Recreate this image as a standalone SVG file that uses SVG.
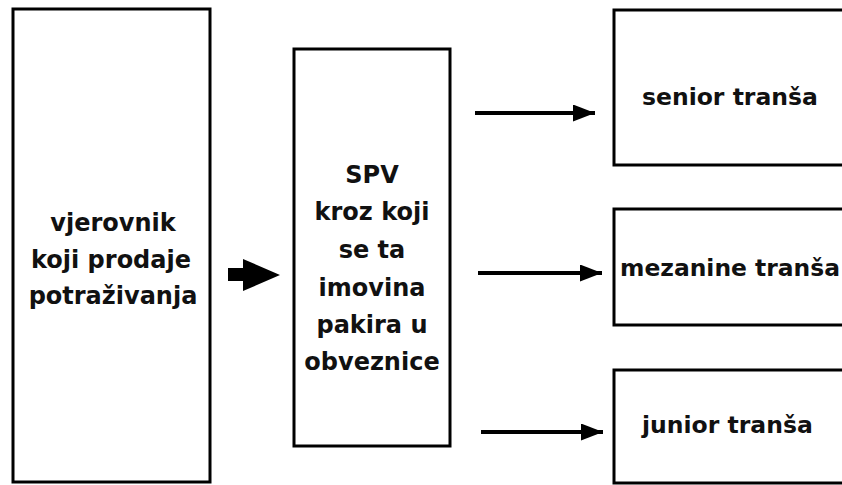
<svg xmlns="http://www.w3.org/2000/svg" width="842" height="485" viewBox="0 0 842 485">
<defs>
<style>
.box{fill:#fff;stroke:#000;stroke-width:3}
.t{font-family:"DejaVu Sans",sans-serif;font-weight:bold;font-size:24px;fill:#111;text-anchor:middle}
.r{font-family:"DejaVu Sans",sans-serif;font-weight:bold;font-size:23.5px;fill:#111}
.ln{stroke:#000;stroke-width:4;fill:none}
</style>
<marker id="ah" markerWidth="22" markerHeight="17" refX="22" refY="8.5" orient="auto" markerUnits="userSpaceOnUse" viewBox="0 0 22 17">
<path d="M0,0 L22,8.5 L0,17 Z" fill="#000"/>
</marker>
</defs>
<rect width="842" height="485" fill="#fff"/>
<g id="creditor">
<rect class="box" x="13" y="9" width="197" height="473"/>
<text class="t" x="113" y="231">vjerovnik</text>
<text class="t" x="111" y="268">koji prodaje</text>
<text class="t" x="113" y="304">potraživanja</text>
</g>
<g id="spv">
<rect class="box" x="294" y="49" width="156" height="397"/>
<text class="t" x="372" y="183">SPV</text>
<text class="t" x="372" y="220">kroz koji</text>
<text class="t" x="372" y="258">se ta</text>
<text class="t" x="372" y="296">imovina</text>
<text class="t" x="372" y="333">pakira u</text>
<text class="t" x="372" y="370">obveznice</text>
</g>
<g id="senior">
<rect class="box" x="614" y="10" width="240" height="155"/>
<text class="r" x="642" y="105">senior tranša</text>
</g>
<g id="mezanine">
<rect class="box" x="614" y="209" width="240" height="116"/>
<text class="r" x="620" y="276" textLength="220" lengthAdjust="spacingAndGlyphs">mezanine tranša</text>
</g>
<g id="junior">
<rect class="box" x="614" y="370" width="240" height="113"/>
<text class="r" x="642" y="433">junior tranša</text>
</g>
<g id="connectors">
<path d="M228,268 H243 V259 L280,275 L243,291 V281 H228 Z" fill="#000"/>
<line class="ln" x1="475" y1="113" x2="595" y2="113" marker-end="url(#ah)"/>
<line class="ln" x1="478" y1="273" x2="602" y2="273" marker-end="url(#ah)"/>
<line class="ln" x1="481" y1="432" x2="603" y2="432" marker-end="url(#ah)"/>
</g>
</svg>
